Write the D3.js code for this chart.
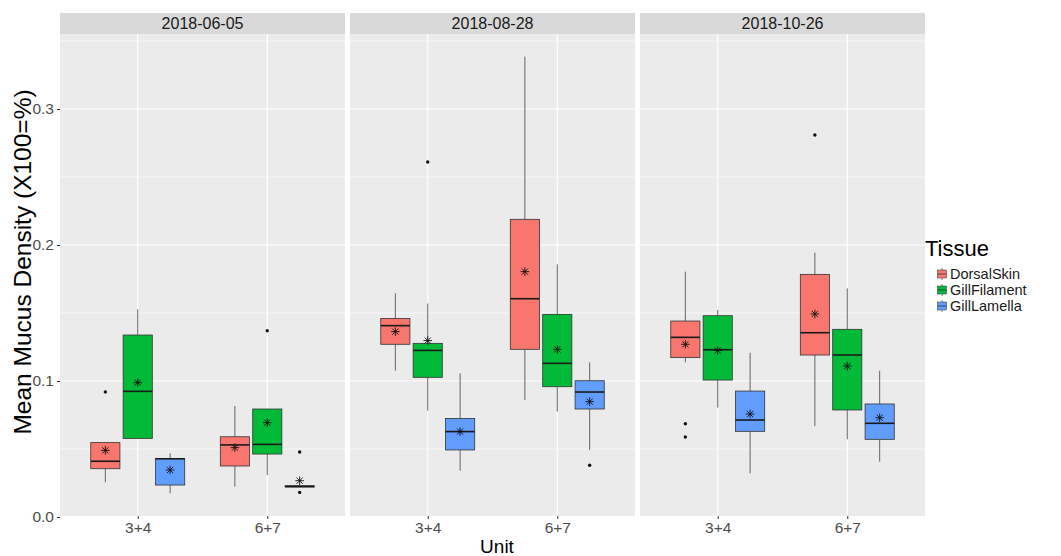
<!DOCTYPE html>
<html><head><meta charset="utf-8">
<script src="https://cdn.jsdelivr.net/npm/d3@7"></script>
<style>body{margin:0;background:#fff;} text{font-family:"Liberation Sans",Arial,sans-serif;}</style>
</head><body>
<svg id="chart" width="1061" height="556"></svg>
<script>
// ---- data ----
const dates = ["2018-06-05", "2018-08-28", "2018-10-26"];
const units = ["3+4", "6+7"];
const tissues = ["DorsalSkin", "GillFilament", "GillLamella"];
const colors = ["#F8766D", "#00BA38", "#619CFF"];
const yTicks = [0.0, 0.1, 0.2, 0.3];
const yMinor = [0.05, 0.15, 0.25, 0.35];
// order: date -> unit -> tissue (DorsalSkin, GillFilament, GillLamella)
const whiskerLow = [0.0255, 0.0578, 0.0174, 0.0223, 0.0309, 0.0222,
                    0.1076, 0.0782, 0.0340, 0.0860, 0.0775, 0.0493,
                    0.1137, 0.0804, 0.0321, 0.0669, 0.0571, 0.0407];
const q1 =         [0.0355, 0.0578, 0.0235, 0.0375, 0.0463, 0.0220,
                    0.1270, 0.1027, 0.0493, 0.1233, 0.0958, 0.0794,
                    0.1172, 0.1007, 0.0630, 0.1191, 0.0787, 0.0571];
const medians =    [0.0410, 0.0924, 0.0428, 0.0530, 0.0534, 0.0225,
                    0.1407, 0.1225, 0.0628, 0.1605, 0.1130, 0.0919,
                    0.1321, 0.1230, 0.0713, 0.1355, 0.1191, 0.0689];
const q3 =         [0.0547, 0.1338, 0.0431, 0.0590, 0.0794, 0.0230,
                    0.1460, 0.1277, 0.0725, 0.2189, 0.1490, 0.1002,
                    0.1441, 0.1480, 0.0926, 0.1784, 0.1380, 0.0831];
const whiskerHigh =[0.0547, 0.1527, 0.0468, 0.0816, 0.0794, 0.0230,
                    0.1645, 0.1570, 0.1056, 0.3385, 0.1858, 0.1137,
                    0.1804, 0.1522, 0.1208, 0.1944, 0.1681, 0.1076];
const means =      [0.0490, 0.0988, 0.0346, 0.0510, 0.0694, 0.0267,
                    0.1363, 0.1297, 0.0628, 0.1804, 0.1233, 0.0848,
                    0.1270, 0.1225, 0.0757, 0.1493, 0.1110, 0.0730];
const outliers =   [[0.092], [], [], [], [0.137], [0.0478, 0.0181],
                    [], [0.261], [], [], [], [0.038],
                    [0.0686, 0.0588], [], [], [0.2809], [], []];

// ---- layout ----
const svg = d3.select("#chart");
const panelTop = 34, panelBottom = 516, stripTop = 13;
const facet = d3.scaleBand().domain(dates).range([60, 925]).paddingInner(5 / 290).paddingOuter(0);
const y = d3.scaleLinear().domain([0, 0.3]).range([517, 109]);

const boxes = [];
dates.forEach((d, di) => units.forEach((u, ui) => tissues.forEach((t, ti) => {
  const i = di * 6 + ui * 3 + ti;
  boxes.push({date: d, unit: u, tissue: t, ti, lo: whiskerLow[i], q1: q1[i], med: medians[i],
    q3: q3[i], hi: whiskerHigh[i], mean: means[i], out: outliers[i]});
})));

dates.forEach(d => {
  const left = facet(d), w = facet.bandwidth();
  const x = d3.scalePoint().domain(units).range([left, left + w]).padding(0.6);
  const step = x.step();
  const g = svg.append("g");
  g.append("rect").attr("x", left).attr("y", panelTop).attr("width", w).attr("height", panelBottom - panelTop).attr("fill", "#EBEBEB");
  g.selectAll(".minor").data(yMinor).join("line")
    .attr("x1", left).attr("x2", left + w).attr("y1", v => y(v)).attr("y2", v => y(v))
    .attr("stroke", "#fff").attr("stroke-width", 0.6);
  g.selectAll(".major").data(yTicks).join("line")
    .attr("x1", left).attr("x2", left + w).attr("y1", v => y(v)).attr("y2", v => y(v))
    .attr("stroke", "#fff").attr("stroke-width", 1.2);
  g.selectAll(".vmajor").data(units).join("line")
    .attr("x1", u => x(u)).attr("x2", u => x(u)).attr("y1", panelTop).attr("y2", panelBottom)
    .attr("stroke", "#fff").attr("stroke-width", 1.2);
  g.append("rect").attr("x", left).attr("y", stripTop).attr("width", w).attr("height", panelTop - stripTop).attr("fill", "#D9D9D9");
  g.append("text").attr("x", left + w / 2).attr("y", (stripTop + panelTop) / 2).attr("dy", "0.36em")
    .attr("text-anchor", "middle").attr("font-size", 16).attr("fill", "#1A1A1A").text(d);
  const xa = d3.axisBottom(x).tickSize(3).tickPadding(3);
  const ax = svg.append("g").attr("transform", `translate(0,${panelBottom})`).call(xa);
  ax.select(".domain").remove();
  ax.selectAll(".tick line").attr("stroke", "#333");
  ax.selectAll(".tick text").attr("font-size", 15.5).attr("fill", "#4D4D4D").attr("font-family", "Liberation Sans, Arial, sans-serif");

  const bw = 0.225 * step, dodge = 0.25 * step;
  const bx = b => x(b.unit) + (b.ti - 1) * dodge;
  const data = boxes.filter(b => b.date === d);
  const bg = g.selectAll(".box").data(data).join("g");
  bg.append("line").attr("x1", bx).attr("x2", bx).attr("y1", b => y(b.q3)).attr("y2", b => y(b.hi)).attr("stroke", "#555").attr("stroke-width", 0.9);
  bg.append("line").attr("x1", bx).attr("x2", bx).attr("y1", b => y(b.q1)).attr("y2", b => y(b.lo)).attr("stroke", "#555").attr("stroke-width", 0.9);
  bg.append("rect").attr("x", b => bx(b) - bw / 2).attr("width", bw)
    .attr("y", b => y(b.q3)).attr("height", b => Math.max(0.01, y(b.q1) - y(b.q3)))
    .attr("fill", b => colors[b.ti]).attr("stroke", "#333").attr("stroke-width", 0.8);
  bg.append("line").attr("x1", b => bx(b) - bw / 2).attr("x2", b => bx(b) + bw / 2)
    .attr("y1", b => y(b.med)).attr("y2", b => y(b.med)).attr("stroke", "#1a1a1a").attr("stroke-width", 1.6);
  bg.each(function(b) {
    d3.select(this).selectAll("circle").data(b.out).join("circle")
      .attr("cx", bx(b)).attr("cy", v => y(v)).attr("r", 1.7).attr("fill", "#111");
  });
  const s = 4.3;
  bg.append("path").attr("transform", b => `translate(${bx(b)},${y(b.mean)})`)
    .attr("d", `M${-s},0H${s}M0,${-s}V${s}M${-s*0.72},${-s*0.72}L${s*0.72},${s*0.72}M${-s*0.72},${s*0.72}L${s*0.72},${-s*0.72}`)
    .attr("stroke", "#111").attr("stroke-width", 0.9).attr("fill", "none");
});

const ya = d3.axisLeft(y).tickValues(yTicks).tickFormat(d3.format(".1f")).tickSize(3).tickPadding(3);
const yg = svg.append("g").attr("transform", `translate(${facet(dates[0])},0)`).call(ya);
yg.select(".domain").remove();
yg.selectAll(".tick line").attr("stroke", "#333");
yg.selectAll(".tick text").attr("font-size", 15.5).attr("fill", "#4D4D4D").attr("font-family", "Liberation Sans, Arial, sans-serif");

svg.append("text").attr("transform", `translate(22,262) rotate(-90)`)
  .attr("text-anchor", "middle").attr("dy", "0.35em").attr("font-size", 24.5).attr("fill", "#000")
  .text("Mean Mucus Density (X100=%)");
svg.append("text").attr("x", 497).attr("y", 546).attr("dy", "0.35em").attr("text-anchor", "middle")
  .attr("font-size", 19).attr("fill", "#000").text("Unit");

const lg = svg.append("g").attr("transform", "translate(925,0)");
lg.append("text").attr("x", 0).attr("y", 248).attr("dy", "0.35em").attr("font-size", 22).attr("fill", "#000").text("Tissue");
const rowY = d3.scalePoint().domain(tissues).range([274, 306]);
tissues.forEach((t, i) => {
  const cy = rowY(t), cx = 17;
  lg.append("line").attr("x1", cx).attr("x2", cx).attr("y1", cy - 6).attr("y2", cy + 6).attr("stroke", "#555").attr("stroke-width", 0.8);
  lg.append("rect").attr("x", cx - 4.5).attr("y", cy - 4).attr("width", 9).attr("height", 8)
    .attr("fill", colors[i]).attr("stroke", "#333").attr("stroke-width", 0.5);
  lg.append("line").attr("x1", cx - 4.5).attr("x2", cx + 4.5).attr("y1", cy).attr("y2", cy).attr("stroke", "#333").attr("stroke-width", 0.8);
  lg.append("text").attr("x", 25).attr("y", cy).attr("dy", "0.35em").attr("font-size", 14.5).attr("fill", "#1A1A1A").text(t);
});
</script>
</body></html>
